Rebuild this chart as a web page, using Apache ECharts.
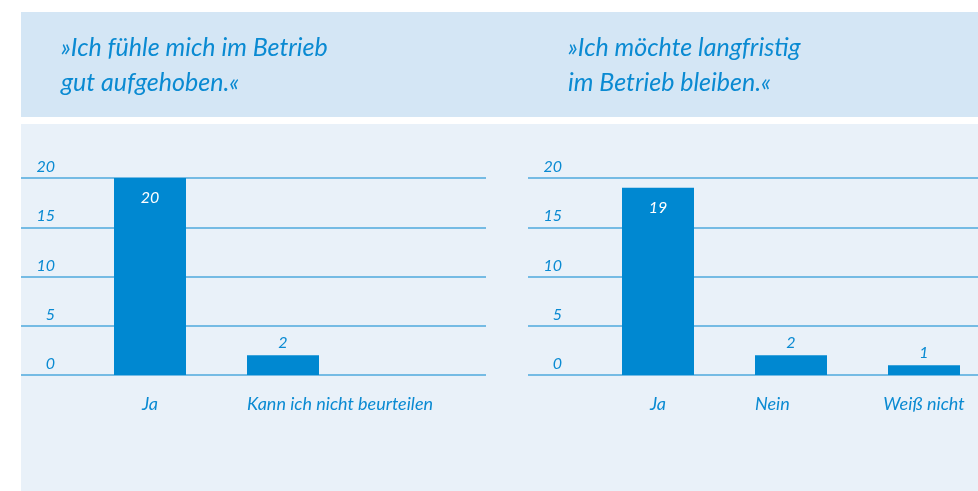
<!DOCTYPE html>
<html>
<head>
<meta charset="utf-8">
<script src="https://cdn.jsdelivr.net/npm/echarts@6/dist/echarts.min.js"></script>
<style>
html,body{margin:0;padding:0;background:#ffffff;}
#chart{width:978px;height:491px;}
</style>
</head>
<body>
<div id="chart"></div>
<script>
// ---- data ----
var leftTitle = '»Ich fühle mich im Betrieb\ngut aufgehoben.«';
var rightTitle = '»Ich möchte langfristig\nim Betrieb bleiben.«';
var leftCategories = ['Ja', 'Kann ich nicht beurteilen'];
var leftValues = [20, 2];
var rightCategories = ['Ja', 'Nein', 'Weiß nicht'];
var rightValues = [19, 2, 1];
var yTicks = [0, 5, 10, 15, 20];

// ---- styles ----
var FONT = 'Lato';
var BLUE = '#0a8ad2';
var BAR = '#0088d1';
var GRID = '#4ea9dd';

function items(vals) {
  return vals.map(function (v) {
    var inside = v > 5;
    return {
      value: v,
      label: {
        show: true,
        position: inside ? 'insideTop' : 'top',
        distance: inside ? 12 : 4,
        color: inside ? '#ffffff' : BLUE,
        fontFamily: FONT, fontStyle: 'italic', fontSize: 16
      }
    };
  });
}
function catData(cats, leftAligned) {
  return cats.map(function (c, i) {
    if (leftAligned.indexOf(i) >= 0) {
      return { value: c, textStyle: { align: 'left', padding: [0, 0, 0, -36] } };
    }
    return c;
  });
}

var yMin = yTicks[0], yMax = yTicks[yTicks.length - 1];
var chart = echarts.init(document.getElementById('chart'), null, { renderer: 'canvas' });

var gridLabel = {
  inside: true, align: 'right', verticalAlign: 'bottom', margin: 34,
  padding: [0, 0, 3, 0],
  color: BLUE, fontFamily: FONT, fontStyle: 'italic', fontSize: 16,
  formatter: function (v) { return yTicks.indexOf(v) >= 0 ? String(v) : ''; }
};
var catLabel = { color: BLUE, fontFamily: FONT, fontStyle: 'italic', fontSize: 18, margin: 20, interval: 0 };
var titleStyle = { color: BLUE, fontFamily: FONT, fontStyle: 'italic', fontWeight: 'normal', fontSize: 25, lineHeight: 35 };

var option = {
  animation: false,
  graphic: [
    { type: 'rect', shape: { x: 21, y: 12, width: 957, height: 105 }, style: { fill: '#d4e6f5' }, z: -10 },
    { type: 'rect', shape: { x: 21, y: 124, width: 957, height: 367 }, style: { fill: '#e9f1f9' }, z: -10 }
  ],
  title: [
    { text: leftTitle, left: 56, top: 25, textStyle: titleStyle },
    { text: rightTitle, left: 563, top: 25, textStyle: titleStyle }
  ],
  grid: [
    { left: 21, width: 465, top: 178, height: 197 },   // left gridlines
    { left: 150, width: 133, top: 178, height: 197 },  // left bars (category centres)
    { left: 528, width: 450, top: 178, height: 197 },  // right gridlines
    { left: 658, width: 266, top: 178, height: 197 }   // right bars (category centres)
  ],
  xAxis: [
    { gridIndex: 0, type: 'category', data: [''], show: false },
    { gridIndex: 1, type: 'category', boundaryGap: false, data: catData(leftCategories, [1]),
      axisLine: { show: false }, axisTick: { show: false }, axisLabel: catLabel },
    { gridIndex: 2, type: 'category', data: [''], show: false },
    { gridIndex: 3, type: 'category', boundaryGap: false, data: catData(rightCategories, [1]),
      axisLine: { show: false }, axisTick: { show: false }, axisLabel: catLabel }
  ],
  yAxis: [
    { gridIndex: 0, type: 'value', min: yMin, max: yMax, interval: 5,
      axisLine: { show: false }, axisTick: { show: false },
      splitLine: { lineStyle: { color: GRID, width: 1.5 } }, axisLabel: gridLabel },
    { gridIndex: 1, type: 'value', min: yMin, max: yMax, interval: 5, show: false },
    { gridIndex: 2, type: 'value', min: yMin, max: yMax, interval: 5,
      axisLine: { show: false }, axisTick: { show: false },
      splitLine: { lineStyle: { color: GRID, width: 1.5 } }, axisLabel: gridLabel },
    { gridIndex: 3, type: 'value', min: yMin, max: yMax, interval: 5, show: false }
  ],
  series: [
    { type: 'bar', xAxisIndex: 1, yAxisIndex: 1, data: items(leftValues), barWidth: 72, itemStyle: { color: BAR }, z: 5 },
    { type: 'bar', xAxisIndex: 3, yAxisIndex: 3, data: items(rightValues), barWidth: 72, itemStyle: { color: BAR }, z: 5 }
  ]
};
chart.setOption(option);
</script>
</body>
</html>
